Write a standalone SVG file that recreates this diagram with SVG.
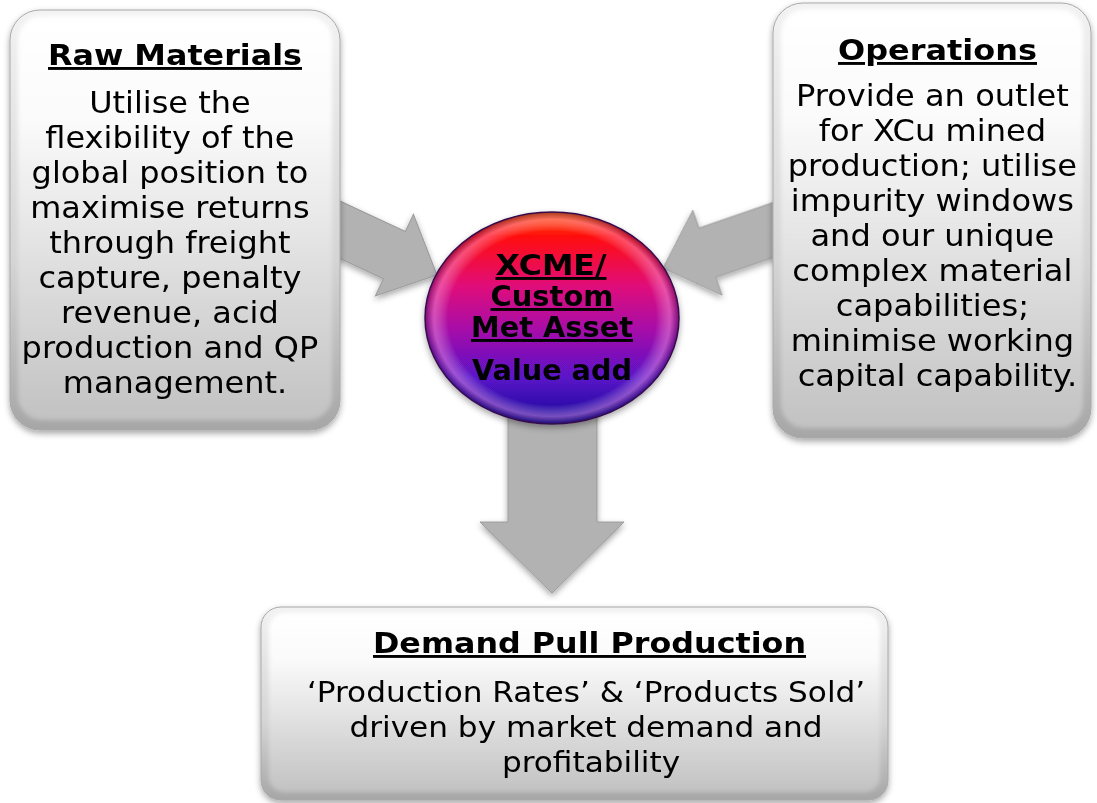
<svg xmlns="http://www.w3.org/2000/svg" width="1097" height="803" viewBox="0 0 1097 803">
  <style>
    .body { font-family: "DejaVu Sans", Verdana, sans-serif; font-size: 30px; fill: #000; text-anchor: middle; }
    .title { font-family: "DejaVu Sans", Verdana, sans-serif; font-weight: bold; font-size: 29px; fill: #000; text-anchor: middle; text-decoration: underline; }
    .rim { fill: url(#rimGrad); stroke: #a8a8a8; stroke-width: 1; }
    .face { fill: url(#faceGrad); }
    .arrow { fill: #b2b2b2; stroke: #9c9c9c; stroke-width: 1; }
  </style>
  <defs>
    <linearGradient id="rimGrad" x1="0" y1="0" x2="0" y2="1">
      <stop offset="0" stop-color="#f2f2f2"/>
      <stop offset="0.6" stop-color="#d4d4d4"/>
      <stop offset="1" stop-color="#a6a6a6"/>
    </linearGradient>
    <linearGradient id="faceGrad" x1="0" y1="0" x2="0" y2="1">
      <stop offset="0" stop-color="#ffffff"/>
      <stop offset="0.25" stop-color="#fbfbfb"/>
      <stop offset="1" stop-color="#c2c2c2"/>
    </linearGradient>
    <linearGradient id="ballGrad" x1="0" y1="0" x2="0" y2="1">
      <stop offset="0" stop-color="#ff6000"/>
      <stop offset="0.12" stop-color="#ff0a10"/>
      <stop offset="0.35" stop-color="#e0107a"/>
      <stop offset="0.55" stop-color="#a810a8"/>
      <stop offset="0.78" stop-color="#5a12c8"/>
      <stop offset="1" stop-color="#14109a"/>
    </linearGradient>
    <radialGradient id="ballRim" cx="0.5" cy="0.5" r="0.5">
      <stop offset="0.82" stop-color="#ffffff" stop-opacity="0"/>
      <stop offset="0.93" stop-color="#ffb0e8" stop-opacity="0.4"/>
      <stop offset="1" stop-color="#200040" stop-opacity="0.4"/>
    </radialGradient>
    <filter id="shadow" x="-10%" y="-10%" width="120%" height="120%">
      <feDropShadow dx="0" dy="3" stdDeviation="3" flood-color="#000" flood-opacity="0.35"/>
    </filter>
    <filter id="soft" x="-5%" y="-5%" width="110%" height="110%">
      <feGaussianBlur stdDeviation="2"/>
    </filter>
    <polygon id="blockArrow" points="0,0 -47,-45 -47,-26 -220,-26 -220,26 -47,26 -47,45"/>
  </defs>

  <rect width="1097" height="803" fill="#ffffff"/>

  <!-- connectors: block arrows into and out of the hub -->
  <g id="connectors" filter="url(#shadow)">
    <use href="#blockArrow" class="arrow" transform="translate(437,275) rotate(25)"/>
    <use href="#blockArrow" class="arrow" transform="translate(663,268) rotate(161)"/>
    <polygon class="arrow" points="508,380 597,380 597,522 624,522 552,593 480,522 508,522"/>
  </g>

  <!-- Raw Materials -->
  <g id="raw-materials">
    <rect class="rim" x="10" y="10" width="330" height="420" rx="30" filter="url(#shadow)"/>
    <rect class="face" x="18" y="16" width="314" height="404" rx="24" filter="url(#soft)"/>
    <text class="title" x="175" y="65" textLength="254" lengthAdjust="spacingAndGlyphs">Raw Materials</text>
    <text class="body" transform="translate(175,0) scale(1.066,1) translate(-175,0)">
      <tspan x="175" y="113.5">Utilise the</tspan>
      <tspan x="175" y="148.5">flexibility of the</tspan>
      <tspan x="175" y="183.5">global position to</tspan>
      <tspan x="175" y="218.5">maximise returns</tspan>
      <tspan x="175" y="253.5">through freight</tspan>
      <tspan x="175" y="288.5">capture, penalty</tspan>
      <tspan x="175" y="323.5">revenue, acid</tspan>
      <tspan x="175" y="358.5">production and QP</tspan>
      <tspan x="175" y="393.5">management.</tspan>
    </text>
  </g>

  <!-- Operations -->
  <g id="operations">
    <rect class="rim" x="773" y="3" width="318" height="435" rx="30" filter="url(#shadow)"/>
    <rect class="face" x="781" y="9" width="302" height="419" rx="24" filter="url(#soft)"/>
    <text class="title" x="937.5" y="60" textLength="199" lengthAdjust="spacingAndGlyphs">Operations</text>
    <text class="body" transform="translate(937.5,0) scale(1.07,1) translate(-937.5,0)">
      <tspan x="937.5" y="106">Provide an outlet</tspan>
      <tspan x="937.5" y="141">for XCu mined</tspan>
      <tspan x="937.5" y="176">production; utilise</tspan>
      <tspan x="937.5" y="211">impurity windows</tspan>
      <tspan x="937.5" y="246.5">and our unique</tspan>
      <tspan x="937.5" y="281.5">complex material</tspan>
      <tspan x="937.5" y="316.5">capabilities;</tspan>
      <tspan x="937.5" y="351.5">minimise working</tspan>
      <tspan x="937.5" y="386.5">capital capability.</tspan>
    </text>
  </g>

  <!-- Hub -->
  <g id="hub">
    <ellipse cx="552" cy="318" rx="127" ry="106" fill="url(#ballGrad)" stroke="#3a1050" stroke-width="1.5" filter="url(#shadow)"/>
    <ellipse cx="552" cy="318" rx="127" ry="106" fill="url(#ballRim)"/>
    <text class="title" x="551" y="275" textLength="111" lengthAdjust="spacingAndGlyphs">XCME/</text>
    <text class="title" x="552" y="306" textLength="123" lengthAdjust="spacingAndGlyphs">Custom</text>
    <text class="title" x="552" y="337" textLength="162" lengthAdjust="spacingAndGlyphs">Met Asset</text>
    <text class="title" x="552" y="380" textLength="160" lengthAdjust="spacingAndGlyphs" style="text-decoration:none">Value add</text>
  </g>

  <!-- Demand Pull Production -->
  <g id="demand-pull">
    <rect class="rim" x="261" y="607" width="627" height="193" rx="20" filter="url(#shadow)"/>
    <rect class="face" x="269" y="613" width="611" height="179" rx="15" filter="url(#soft)"/>
    <text class="title" x="589.5" y="653" textLength="433" lengthAdjust="spacingAndGlyphs">Demand Pull Production</text>
    <text class="body" font-size="29" style="font-size:29px" transform="translate(591,0) scale(1.074,1) translate(-591,0)">
      <tspan x="591" y="702">‘Production Rates’ &amp; ‘Products Sold’</tspan>
      <tspan x="591" y="737">driven by market demand and</tspan>
      <tspan x="591" y="772">profitability</tspan>
    </text>
  </g>
</svg>
